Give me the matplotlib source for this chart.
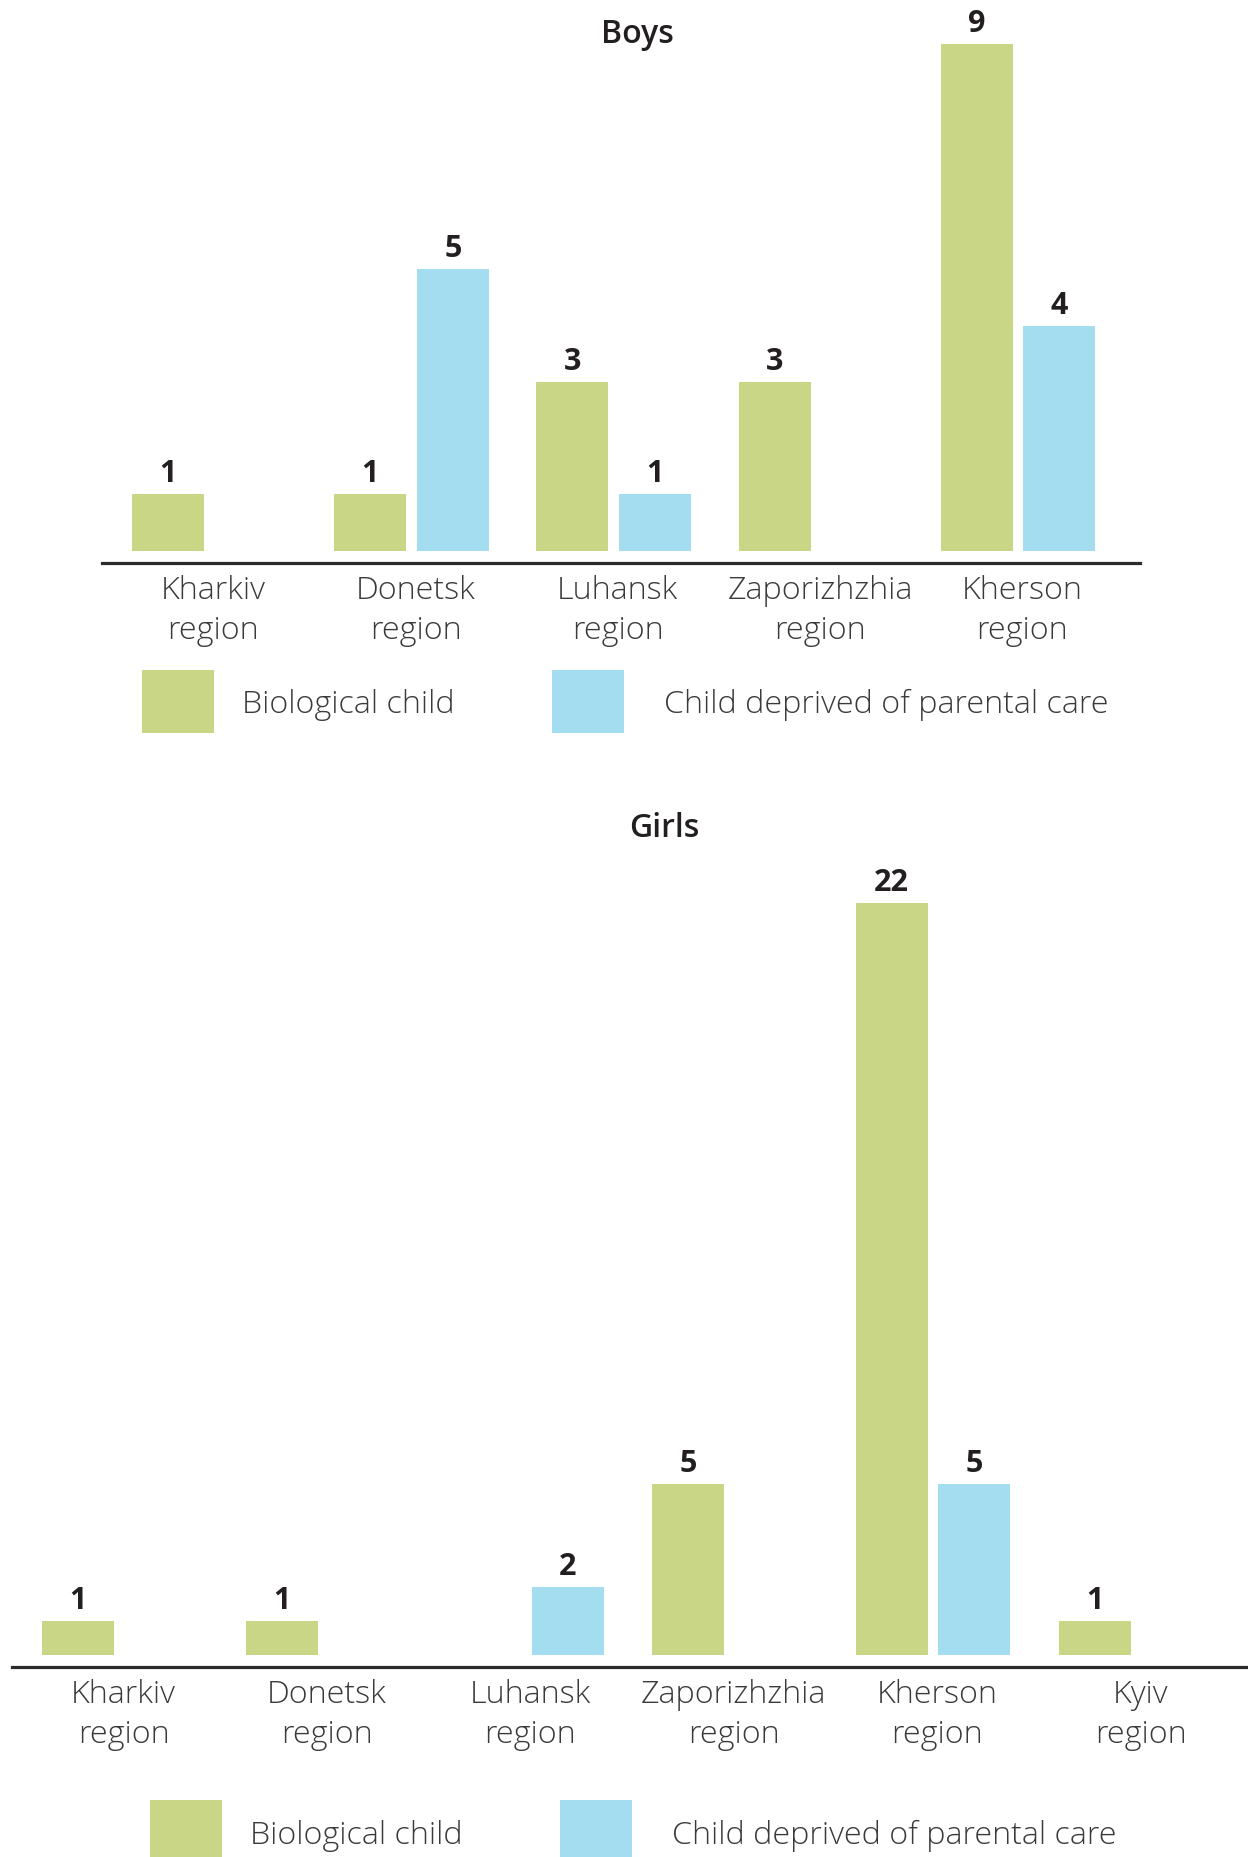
import numpy as np
import matplotlib
matplotlib.use('Agg')
import matplotlib.pyplot as plt
from matplotlib.patches import Rectangle

plt.rcParams['font.family'] = ['Open Sans', 'DejaVu Sans']

# counts per region; None = no children in that group
boys_regions = ['Kharkiv\nregion', 'Donetsk\nregion', 'Luhansk\nregion',
                'Zaporizhzhia\nregion', 'Kherson\nregion']
boys_biological = [1, 1, 3, 3, 9]
boys_deprived = [None, 5, 1, None, 4]

girls_regions = ['Kharkiv\nregion', 'Donetsk\nregion', 'Luhansk\nregion',
                 'Zaporizhzhia\nregion', 'Kherson\nregion', 'Kyiv\nregion']
girls_biological = [1, 1, None, 5, 22, 1]
girls_deprived = [None, None, 2, None, 5, None]

series_names = ['Biological child', 'Child deprived of parental care']

GREEN = '#c9d686'
BLUE = '#a4ddef'
TEXT = '#3a3a3a'
DARK = '#231f20'
LABEL_SIZE = 23.2

W, H = 1248, 1857
fig = plt.figure(figsize=(W / 100, H / 100), dpi=100)


def px_axes(left, right, top, bottom):
    # axes rectangle given in pixel coordinates (origin top-left)
    return fig.add_axes([left / W, 1 - bottom / H, (right - left) / W, (bottom - top) / H])


def draw_panel(ax, regions, bio, dep, x0, step, px_per_unit, axis_left, axis_right,
               axis_y, bar_base, top_px):
    bar_w = 72 / step
    off = (72 + 10.7) / 2 / step
    ax.set_xlim((axis_left - x0) / step, (axis_right - x0) / step)
    ax.set_ylim(-(axis_y - bar_base) / px_per_unit, (bar_base - top_px) / px_per_unit)
    x = np.arange(len(regions))
    for vals, dx, col in [(bio, -off, GREEN), (dep, off, BLUE)]:
        for xi, v in zip(x, vals):
            if v is None:
                continue
            ax.bar(xi + dx, v, width=bar_w, color=col, linewidth=0)
            ax.annotate(str(v), (xi + dx, v), xytext=(0, 8.6), textcoords='offset points',
                        ha='center', va='baseline', fontsize=22, fontweight='bold',
                        color=DARK)
    for s in ['top', 'left', 'right']:
        ax.spines[s].set_visible(False)
    ax.spines['bottom'].set_color('#2b2b2b')
    ax.spines['bottom'].set_linewidth(2.3)
    ax.set_yticks([])
    ax.set_xticks(x + 0.02)
    ax.set_xticklabels(regions, fontsize=LABEL_SIZE, fontweight='light', color=TEXT,
                       linespacing=1.36)
    ax.tick_params(axis='x', length=0, pad=8.5)
    ax.patch.set_visible(False)


def legend_row(y_top, y_bot, green_x, blue_x, text_x, baseline):
    for (xl, xr), col in zip([green_x, blue_x], [GREEN, BLUE]):
        fig.add_artist(Rectangle((xl / W, 1 - y_bot / H), (xr - xl) / W, (y_bot - y_top) / H,
                                 transform=fig.transFigure, color=col, linewidth=0))
    for tx, name in zip(text_x, series_names):
        fig.text(tx / W, 1 - baseline / H, name, fontsize=LABEL_SIZE, fontweight='light',
                 color=TEXT, va='baseline', ha='left')


# Boys
ax1 = px_axes(101.8, 1140, 0, 562.7)
draw_panel(ax1, boys_regions, boys_biological, boys_deprived, x0=209.3, step=202.2,
           px_per_unit=56.3, axis_left=101.8, axis_right=1140, axis_y=562.7,
           bar_base=550.7, top_px=0)
fig.text(637 / W, 1 - 43.3 / H, 'Boys', ha='center', va='baseline', fontsize=23,
         fontweight='semibold', color=DARK)
legend_row(670, 732.7, (141.5, 214.2), (552, 624), (241.6, 664), 713.3)

# Girls
ax2 = px_axes(11.7, 1248, 850, 1666.7)
draw_panel(ax2, girls_regions, girls_biological, girls_deprived, x0=119.5, step=203.4,
           px_per_unit=34.2, axis_left=11.7, axis_right=1248, axis_y=1666.7,
           bar_base=1655, top_px=850)
fig.text(664 / W, 1 - 837 / H, 'Girls', ha='center', va='baseline', fontsize=23,
         fontweight='semibold', color=DARK)
legend_row(1800, 1857, (149.8, 222.3), (559.7, 632.2), (250, 672.5), 1844)

fig.savefig('out.png', dpi=100, facecolor='white')
